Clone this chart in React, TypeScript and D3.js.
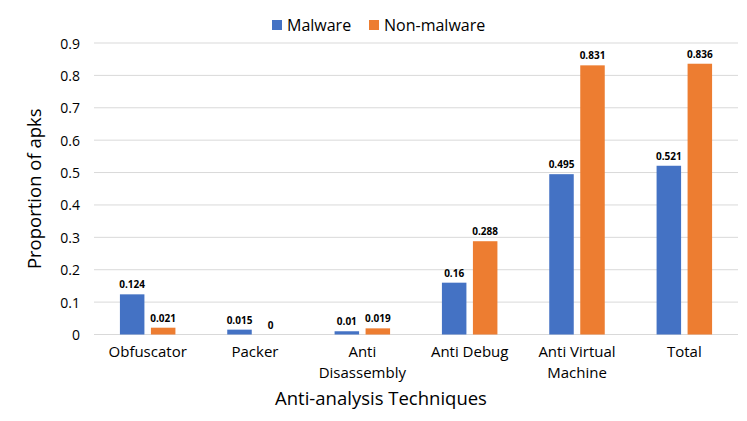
import React from "react";
import * as d3 from "d3";

const categories: string[][] = [
  ["Obfuscator"],
  ["Packer"],
  ["Anti", "Disassembly"],
  ["Anti Debug"],
  ["Anti Virtual", "Machine"],
  ["Total"],
];
const malware = [0.124, 0.015, 0.01, 0.16, 0.495, 0.521];
const nonMalware = [0.021, 0, 0.019, 0.288, 0.831, 0.836];
const yTicks = [0, 0.1, 0.2, 0.3, 0.4, 0.5, 0.6, 0.7, 0.8, 0.9];
const seriesNames = ["Malware", "Non-malware"];
const colors = ["#4472C4", "#ED7D31"];

const W = 747;
const H = 421;
const FONT = "'Open Sans', 'Noto Sans', sans-serif";

export default function App() {
  const left = 94;
  const right = 738;
  const top = 43;
  const bottom = 334.5;
  const x = d3
    .scaleBand<number>()
    .domain(categories.map((_, i) => i))
    .range([left, right]);
  const y = d3.scaleLinear().domain([0, 0.9]).range([bottom, top]);
  const barW = 24.5;
  const gap = 6.5;
  const series = [malware, nonMalware];

  return (
    <svg
      width={W}
      height={H}
      style={{ position: "absolute", left: 0, top: 0, background: "#fff" }}
      fontFamily={FONT}
    >
      {yTicks.map((t) => (
        <g key={t}>
          <line x1={left} x2={right} y1={y(t)} y2={y(t)} stroke="#d9d9d9" strokeWidth={1} />
          <text x={80} y={y(t)} textAnchor="end" dominantBaseline="central" fontSize={14} fill="#000">
            {String(t)}
          </text>
        </g>
      ))}
      {series.map((vals, s) =>
        vals.map((v, i) => {
          const cx = (x(i) as number) + x.bandwidth() / 2;
          const bx = s === 0 ? cx - gap / 2 - barW : cx + gap / 2;
          return (
            <g key={`${s}-${i}`}>
              <rect x={bx} y={y(v)} width={barW} height={bottom - y(v)} fill={colors[s]} />
              <text
                x={bx + barW / 2}
                y={y(v) - 10}
                textAnchor="middle"
                dominantBaseline="central"
                fontSize={10}
                fontWeight="bold"
                fill="#000"
              >
                {String(v)}
              </text>
            </g>
          );
        })
      )}
      {categories.map((lines, i) => {
        const cx = (x(i) as number) + x.bandwidth() / 2;
        return lines.map((l, k) => (
          <text
            key={`${i}-${k}`}
            x={cx}
            y={351 + k * 20.5}
            textAnchor="middle"
            dominantBaseline="central"
            fontSize={15}
            fill="#000"
          >
            {l}
          </text>
        ));
      })}
      <text
        x={381}
        y={397}
        textAnchor="middle"
        dominantBaseline="central"
        fontSize={18.5}
        fill="#000"
      >
        Anti-analysis Techniques
      </text>
      <text
        transform={`translate(33, ${(top + bottom) / 2}) rotate(-90)`}
        textAnchor="middle"
        dominantBaseline="central"
        fontSize={18.5}
        fill="#000"
      >
        Proportion of apks
      </text>
      {seriesNames.map((n, s) => {
        const lx = s === 0 ? 272 : 369;
        return (
          <g key={n}>
            <rect x={lx} y={20} width={10} height={10} fill={colors[s]} />
            <text x={lx + 15} y={25} dominantBaseline="central" fontSize={16} fill="#000">
              {n}
            </text>
          </g>
        );
      })}
    </svg>
  );
}
